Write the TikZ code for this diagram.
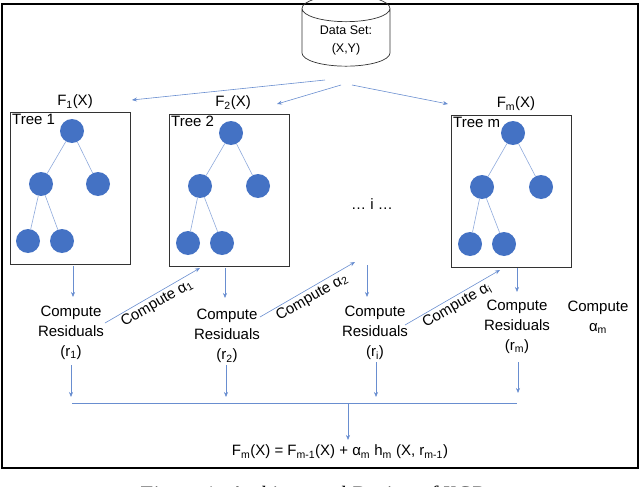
\documentclass[tikz,border=0pt]{standalone}
\usepackage{fontspec}
\setmainfont{Liberation Sans}
\newfontfamily\capfont{Liberation Serif}
\usetikzlibrary{shapes.geometric,arrows.meta}
\definecolor{nblue}{HTML}{4472C4}
\definecolor{lblue}{HTML}{8FAADC}
\begin{document}
\begin{tikzpicture}[x=1pt,y=-1pt,
  tn/.style={circle,fill=nblue,minimum size=24pt,inner sep=0pt},
  edge/.style={lblue,line width=0.6pt},
  arr/.style={nblue!80,line width=0.6pt,-{Stealth[length=5pt,width=4pt]}},
  tbox/.style={draw=black!80,line width=0.8pt,minimum width=120pt,minimum height=152pt,inner sep=0pt},
  lbl/.style={text=black,font=\fontsize{15}{17}\selectfont,align=center,inner sep=1pt},
  lbls/.style={text=black,font=\fontsize{15}{20}\selectfont,align=center,inner sep=1pt}]
\useasboundingbox (0,0) rectangle (640,487);
\draw[line width=1.6pt] (2,4) rectangle (638,468);
% cylinder
\node[cylinder,shape border rotate=90,draw=black!80,line width=0.7pt,aspect=0.45,minimum width=88pt,minimum height=66pt,
  font=\fontsize{12.5}{18}\selectfont,align=center] (ds) at (346,40) {Data Set:\\(X,Y)};
\coordinate (s1) at (325,80); \coordinate (s2) at (341,85); \coordinate (s3) at (352,85);
\coordinate (e1) at (132,100); \coordinate (e2) at (277,104); \coordinate (e3) at (448,104);
\draw[arr] (s1) -- (e1); \draw[arr] (s2) -- (e2); \draw[arr] (s3) -- (e3);
\node[lbl] (f1) at (75,102) {F\textsubscript{1}(X)};
\node[lbl] (f2) at (233,103) {F\textsubscript{2}(X)};
\node[lbl] (fm) at (516,104) {F\textsubscript{m}(X)};
% boxes
\node[tbox,anchor=north west] (b1) at (10,112) {};
\node[tbox,anchor=north west] (b2) at (169,114) {};
\node[tbox,anchor=north west] (b3) at (451,115) {};
\node[lbl,anchor=north west,inner sep=2pt] at (b1.north west) {Tree 1};
\node[lbl,anchor=north west,inner sep=2pt] at (b2.north west) {Tree 2};
\node[lbl,anchor=north west,inner sep=2pt] at (b3.north west) {Tree m};
% trees
\foreach \n/\rx/\ry/\lx/\ly/\qx/\qy/\ax/\ay/\bx/\by in
 {a/72/131/41/184/98/184/28/241/62/241,
  b/231/133/200/186/258/186/188/243/222/243,
  c/513/133/482/187/541/187/470/244/504/244}{
  \node[tn] (\n r) at (\rx,\ry) {};
  \node[tn] (\n l) at (\lx,\ly) {};
  \node[tn] (\n q) at (\qx,\qy) {};
  \node[tn] (\n a) at (\ax,\ay) {};
  \node[tn] (\n b) at (\bx,\by) {};
  \draw[edge] (\n r) -- (\n l); \draw[edge] (\n r) -- (\n q);
  \draw[edge] (\n l) -- (\n a); \draw[edge] (\n l) -- (\n b);
}
\node[lbl] (dots) at (372,204) {\dots\ i \dots};
% compute residuals
\node[lbls] (c1) at (71,333) {Compute\\Residuals\\(r\textsubscript{1})};
\node[lbls] (c2) at (227,336) {Compute\\Residuals\\(r\textsubscript{2})};
\node[lbls] (c3) at (375,333) {Compute\\Residuals\\(r\textsubscript{i})};
\node[lbls] (c4) at (517,327) {Compute\\Residuals\\(r\textsubscript{m})};
\node[lbls] (cam) at (598,317) {Compute\\α\textsubscript{m}};
\coordinate (m3) at (367,265);
\draw[arr] (73,266) -- (73,297);
\draw[arr] (225,268) -- (225,298);
\draw[arr] (m3) -- (367,297);
\draw[arr] (517,268) -- (517,292);
% alpha diagonals
\draw[arr] (105,323) -- node[lbl,sloped,below,pos=0.5,yshift=-1pt]{Compute α\textsubscript{1}} (200,268);
\draw[arr] (260,317) -- node[lbl,sloped,below,pos=0.5,yshift=-1pt]{Compute α\textsubscript{2}} (355,262);
\draw[arr] (405,325) -- node[lbl,sloped,below,pos=0.5,yshift=-1pt]{Compute α\textsubscript{i}} (500,270);
% bottom
\draw[arr] (71,365) -- (71,397);
\draw[arr] (226,365) -- (226,397);
\draw[arr] (376,362) -- (376,397);
\draw[arr] (518,362) -- (518,393);
\draw[nblue!80,line width=0.6pt] (72,403) -- (517,403);
\node[lbl] (form) at (340,452) {F\textsubscript{m}(X) = F\textsubscript{m-1}(X) + α\textsubscript{m} h\textsubscript{m} (X, r\textsubscript{m-1})};
\coordinate (j) at (348,403);
\draw[arr] (j) -- (348,440);
\node[font=\capfont\itshape\fontsize{22}{24}\selectfont] (cap) at (330,496) {Figure 1: Architectural Design of XGBoost};
\end{tikzpicture}
\end{document}
